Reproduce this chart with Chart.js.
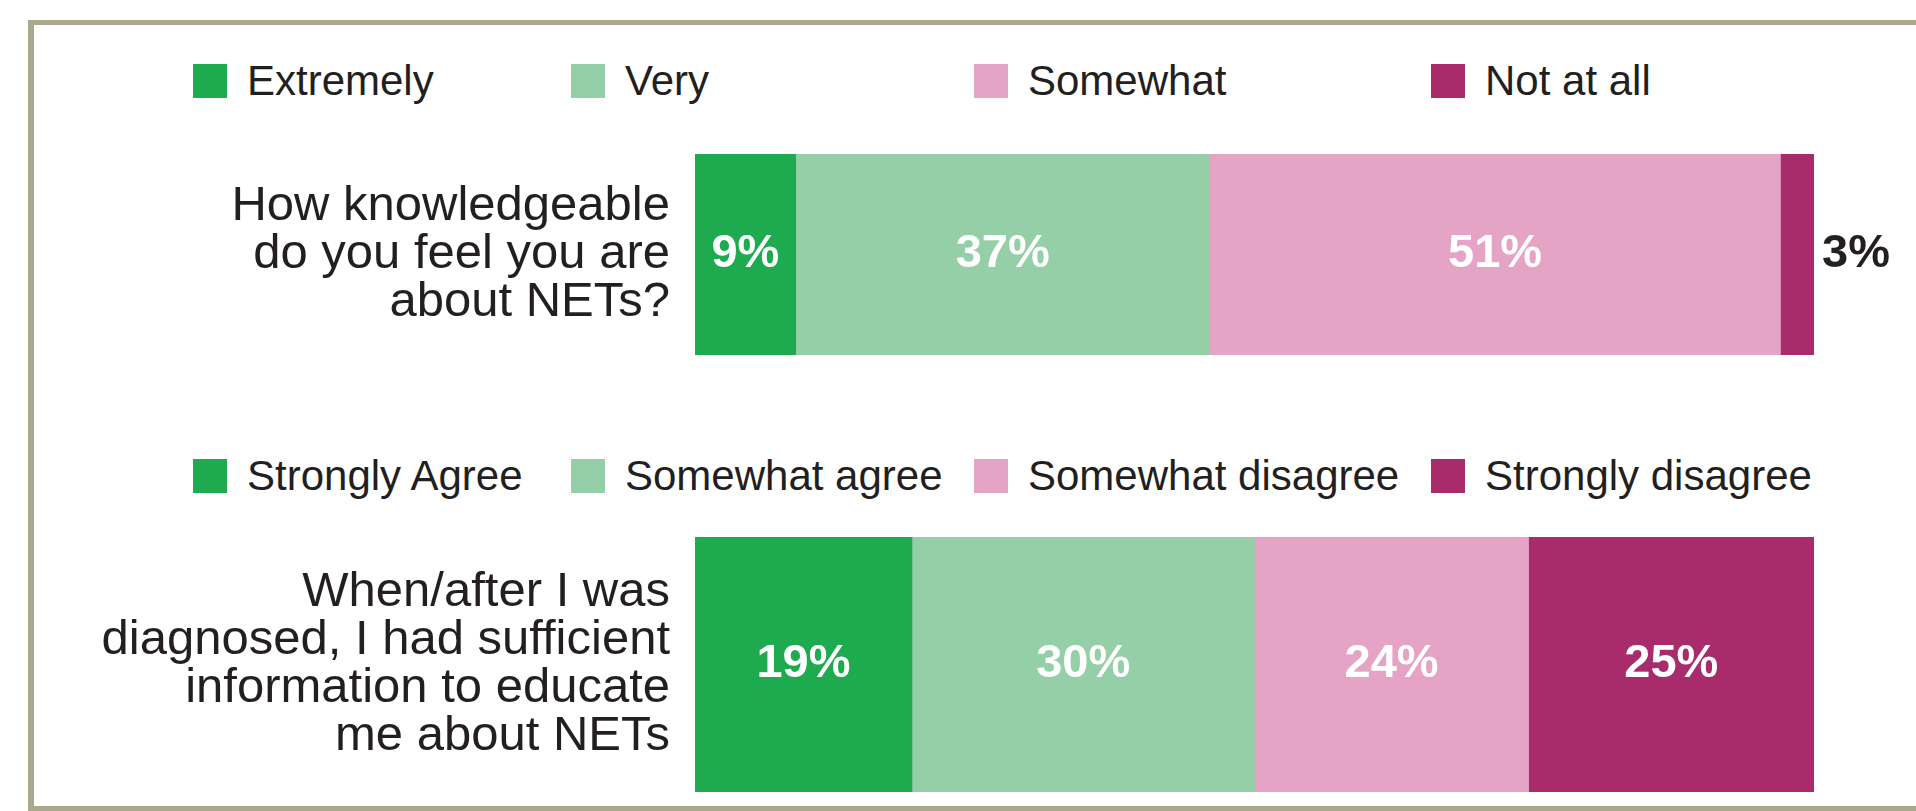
<!DOCTYPE html>
<html>
<head>
<meta charset="utf-8">
<title>NETs</title>
<script src="https://cdn.jsdelivr.net/npm/chart.js@4.4.1/dist/chart.umd.min.js"></script>
<style>
  html, body { margin: 0; padding: 0; background: #fff; }
  body {
    width: 1916px; height: 811px; position: relative; overflow: hidden;
    font-family: "Liberation Sans", Arial, sans-serif; color: #231f20;
  }
  .marco {
    position: absolute; left: 28px; top: 20px; width: 1920px; height: 791px;
    box-sizing: border-box;
    border-top: 5px solid #a9a88b; border-left: 6px solid #a9a88b; border-bottom: 5px solid #a9a88b;
  }
  .grafica { position: absolute; left: 34px; width: 1882px; }
  .leyenda { position: absolute; left: 0; width: 1916px; height: 34px; }
  .leyenda .item { position: absolute; top: 0; height: 34px; display: flex; align-items: center; white-space: nowrap; }
  .leyenda .caja { width: 34px; height: 34px; margin-right: 20px; }
  .leyenda .texto { font-size: 42px; line-height: 34px; }
</style>
</head>
<body>
<div class="marco"></div>

<div class="leyenda" id="leyenda1" style="top:64px"></div>
<div class="grafica" style="top:154px; height:201px"><canvas id="graficaConocimiento"></canvas></div>

<div class="leyenda" id="leyenda2" style="top:459px"></div>
<div class="grafica" style="top:537px; height:255px"><canvas id="graficaInformacion"></canvas></div>

<script>
// ===============================
// DATOS
// ===============================
const pregunta1 = ["How knowledgeable", "do you feel you are", "about NETs?"];
const respuestas1 = ["Extremely", "Very", "Somewhat", "Not at all"];
const valores1 = [9, 37, 51, 3];

const pregunta2 = ["When/after I was", "diagnosed, I had sufficient", "information to educate", "me about NETs"];
const respuestas2 = ["Strongly Agree", "Somewhat agree", "Somewhat disagree", "Strongly disagree"];
const valores2 = [19, 30, 24, 25];

// ===============================
// COLORES Y DISEÑO
// ===============================
const colores = ["#1eab50", "#94cfa7", "#e5a4c6", "#a82c6c"];
const colorTexto = "#231f20";
const fuente = '"Liberation Sans", Arial, sans-serif';
const columnasLeyenda = [193, 571, 974, 1431];

Chart.defaults.font.family = fuente;

// ===============================
// PLUGIN: PORCENTAJES SOBRE LAS BARRAS
// ===============================
const etiquetasPct = {
    id: "etiquetasPct",
    afterDatasetsDraw(chart) {
        const ctx = chart.ctx;
        ctx.save();
        ctx.font = "bold 47px " + fuente;
        ctx.textBaseline = "middle";
        chart.data.datasets.forEach((ds, i) => {
            chart.getDatasetMeta(i).data.forEach((barra, j) => {
                const txt = ds.data[j] + "%";
                const ancho = Math.abs(barra.x - barra.base);
                const anchoTxt = ctx.measureText(txt).width;
                if (ancho > anchoTxt + 10) {
                    ctx.fillStyle = "#ffffff";
                    ctx.textAlign = "center";
                    ctx.fillText(txt, (barra.x + barra.base) / 2, barra.y);
                } else {
                    ctx.fillStyle = colorTexto;
                    ctx.textAlign = "left";
                    ctx.fillText(txt, barra.x + 8, barra.y);
                }
            });
        });
        ctx.restore();
    }
};

// ===============================
// PLUGIN: LEYENDA EN HTML (columnas alineadas)
// ===============================
const leyendaHtml = {
    id: "leyendaHtml",
    afterUpdate(chart, args, opts) {
        const cont = document.getElementById(opts.containerID);
        cont.innerHTML = "";
        chart.data.datasets.forEach((ds, i) => {
            const item = document.createElement("div");
            item.className = "item";
            item.style.left = columnasLeyenda[i] + "px";
            const caja = document.createElement("span");
            caja.className = "caja";
            caja.style.background = ds.backgroundColor;
            const texto = document.createElement("span");
            texto.className = "texto";
            texto.textContent = ds.label;
            item.appendChild(caja);
            item.appendChild(texto);
            cont.appendChild(item);
        });
    }
};

// ===============================
// GRÁFICAS: BARRAS APILADAS HORIZONTALES
// ===============================
function crearGrafica(idCanvas, pregunta, respuestas, valores, idLeyenda) {
    const total = valores.reduce((a, b) => a + b, 0);
    return new Chart(document.getElementById(idCanvas), {
        type: "bar",
        data: {
            labels: [pregunta],
            datasets: respuestas.map((r, i) => ({
                label: r,
                data: [valores[i]],
                backgroundColor: colores[i],
                borderWidth: 0,
                categoryPercentage: 1,
                barPercentage: 1
            }))
        },
        options: {
            indexAxis: "y",
            responsive: true,
            maintainAspectRatio: false,
            animation: false,
            layout: { padding: { left: 0, right: 102, top: 0, bottom: 0 } },
            plugins: {
                legend: { display: false },
                tooltip: { enabled: false },
                leyendaHtml: { containerID: idLeyenda }
            },
            scales: {
                x: { stacked: true, min: 0, max: total, display: false },
                y: {
                    stacked: true,
                    grid: { display: false },
                    border: { display: false },
                    ticks: {
                        color: colorTexto,
                        padding: 17,
                        font: { size: 49, lineHeight: 0.98 }
                    },
                    afterFit(eje) {
                        eje.width = 661;
                        eje.paddingTop = 0;
                        eje.paddingBottom = 0;
                    }
                }
            }
        },
        plugins: [etiquetasPct, leyendaHtml]
    });
}

crearGrafica("graficaConocimiento", pregunta1, respuestas1, valores1, "leyenda1");
crearGrafica("graficaInformacion", pregunta2, respuestas2, valores2, "leyenda2");
</script>
</body>
</html>
